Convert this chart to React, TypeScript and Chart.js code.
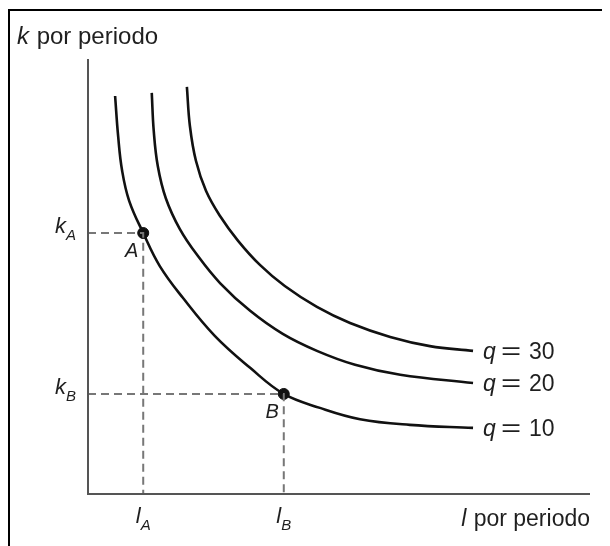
import React, { useEffect, useRef } from "react";
import { Chart, registerables } from "chart.js";

Chart.register(...registerables);

// Isoquant q = 10
const q10L = [0.54, 0.6, 0.68, 0.82, 1.1, 1.43, 1.89, 2.53, 3.23, 3.9, 4.62, 5.42, 6.41, 7.67];
const q10K = [9.15, 8.23, 7.43, 6.74, 6.0, 5.24, 4.51, 3.63, 2.9, 2.3, 1.98, 1.72, 1.59, 1.52];
// Isoquant q = 20
const q20L = [1.27, 1.31, 1.39, 1.55, 1.83, 2.19, 2.63, 3.23, 3.88, 4.56, 5.32, 6.22, 7.67];
const q20K = [9.22, 8.34, 7.54, 6.8, 6.09, 5.47, 4.85, 4.21, 3.68, 3.29, 2.97, 2.74, 2.55];
// Isoquant q = 30
const q30L = [1.97, 2.03, 2.15, 2.35, 2.63, 2.99, 3.43, 3.92, 4.56, 5.22, 6.02, 6.81, 7.67];
const q30K = [9.36, 8.46, 7.66, 6.97, 6.39, 5.82, 5.26, 4.78, 4.3, 3.93, 3.61, 3.4, 3.29];

const qValues = [10, 20, 30];
const pointNames = ["A", "B"];
const pointL = [1.1, 3.9];
const pointK = [6.0, 2.3];

const xTitle = ["l", " por periodo"];
const yTitle = ["k", " por periodo"];

const FONT = "'Liberation Sans', Arial, Helvetica, sans-serif";
const TEXT = "#1f1f1f";

function toPts(xs: number[], ys: number[]) {
  return xs.map((x, i) => ({ x, y: ys[i] }));
}

function drawSub(
  ctx: CanvasRenderingContext2D,
  main: string,
  sub: string,
  x: number,
  y: number,
  align: "right" | "center"
) {
  ctx.font = `italic 22px ${FONT}`;
  const wm = ctx.measureText(main).width;
  ctx.font = `italic 15px ${FONT}`;
  const ws = ctx.measureText(sub).width;
  const total = wm + ws;
  const x0 = align === "right" ? x - total : x - total / 2;
  ctx.textAlign = "left";
  ctx.textBaseline = "alphabetic";
  ctx.font = `italic 22px ${FONT}`;
  ctx.fillText(main, x0, y);
  ctx.font = `italic 15px ${FONT}`;
  ctx.fillText(sub, x0 + wm, y + 7);
}

const annotate = {
  id: "annotate",
  afterDatasetsDraw(chart: any) {
    const { ctx, chartArea, scales } = chart;
    const xs = scales.x;
    const ys = scales.y;
    ctx.save();
    // axes
    ctx.strokeStyle = "#555";
    ctx.lineWidth = 2;
    ctx.beginPath();
    ctx.moveTo(chartArea.left, chartArea.top);
    ctx.lineTo(chartArea.left, chartArea.bottom);
    ctx.lineTo(chartArea.right, chartArea.bottom);
    ctx.stroke();

    ctx.fillStyle = TEXT;
    // axis titles
    ctx.textBaseline = "alphabetic";
    ctx.textAlign = "left";
    ctx.font = `italic 24px ${FONT}`;
    const yx = chartArea.left - 71;
    const yy = chartArea.top - 15;
    ctx.fillText(yTitle[0], yx, yy);
    const wk = ctx.measureText(yTitle[0]).width;
    ctx.font = `24px ${FONT}`;
    ctx.fillText(yTitle[1], yx + wk + 1, yy);

    ctx.font = `23px ${FONT}`;
    const wRest = ctx.measureText(xTitle[1]).width;
    ctx.font = `italic 23px ${FONT}`;
    const wl = ctx.measureText(xTitle[0]).width;
    const xr = chartArea.right;
    const xb = chartArea.bottom + 32;
    ctx.fillText(xTitle[0], xr - wRest - wl - 1, xb);
    ctx.font = `23px ${FONT}`;
    ctx.fillText(xTitle[1], xr - wRest, xb);

    // point labels and axis labels
    pointNames.forEach((name, i) => {
      const px = xs.getPixelForValue(pointL[i]);
      const py = ys.getPixelForValue(pointK[i]);
      drawSub(ctx, "k", name, chartArea.left - 12, py, "right");
      drawSub(ctx, "l", name, px, chartArea.bottom + 29, "center");
      ctx.font = `italic 20px ${FONT}`;
      ctx.textAlign = "right";
      ctx.textBaseline = "top";
      ctx.fillText(name, px - 5, py + 8);
    });

    // curve labels
    const ends = [
      [q10L[q10L.length - 1], q10K[q10K.length - 1]],
      [q20L[q20L.length - 1], q20K[q20K.length - 1]],
      [q30L[q30L.length - 1], q30K[q30K.length - 1]],
    ];
    qValues.forEach((q, i) => {
      const x0 = xs.getPixelForValue(ends[i][0]) + 10;
      const y0 = ys.getPixelForValue(ends[i][1]) + 4;
      ctx.textAlign = "left";
      ctx.textBaseline = "alphabetic";
      ctx.font = `italic 23px ${FONT}`;
      ctx.fillText("q", x0, y0 + 4);
      ctx.font = `23px ${FONT}`;
      ctx.save();
      ctx.translate(x0 + 18, y0 + 4);
      ctx.scale(1.5, 1);
      ctx.fillText("=", 0, 0);
      ctx.restore();
      ctx.fillText(String(q), x0 + 46, y0 + 4);
    });
    ctx.restore();
  },
};

export default function App() {
  const ref = useRef<HTMLCanvasElement | null>(null);
  useEffect(() => {
    if (!ref.current) return;
    const curve = (data: any, label: string) => ({
      type: "line" as const,
      label,
      data,
      borderColor: "#111",
      borderWidth: 2.6,
      pointRadius: 0,
      fill: false,
      tension: 0.4,
    });
    const dash = (i: number) => ({
      type: "line" as const,
      label: "guide" + i,
      data: [
        { x: 0, y: pointK[i] },
        { x: pointL[i], y: pointK[i] },
        { x: pointL[i], y: 0 },
      ],
      borderColor: "#777",
      borderWidth: 2,
      borderDash: [8, 5],
      pointRadius: 0,
      tension: 0,
      fill: false,
    });
    const chart = new Chart(ref.current, {
      type: "line",
      data: {
        datasets: [
          dash(0),
          dash(1),
          curve(toPts(q10L, q10K), "q10"),
          curve(toPts(q20L, q20K), "q20"),
          curve(toPts(q30L, q30K), "q30"),
          {
            type: "scatter" as const,
            label: "points",
            data: toPts(pointL, pointK),
            backgroundColor: "#111",
            borderColor: "#111",
            borderWidth: 1,
            pointRadius: 5.5,
            showLine: false,
          } as any,
        ],
      },
      options: {
        responsive: false,
        animation: false,
        devicePixelRatio: 1,
        layout: { padding: { left: 78, right: 20, top: 48, bottom: 53 } },
        plugins: { legend: { display: false }, tooltip: { enabled: false } },
        scales: {
          x: { type: "linear", min: 0, max: 10, display: false },
          y: { type: "linear", min: 0, max: 10, display: false },
        },
      },
      plugins: [annotate],
    } as any);
    return () => chart.destroy();
  }, []);
  return (
    <div
      style={{
        width: 600,
        height: 536,
        borderTop: "2px solid #000",
        borderLeft: "2px solid #000",
        background: "#fff",
        marginTop: 1,
      }}
    >
      <canvas ref={ref} width={600} height={536} style={{ display: "block" }} />
    </div>
  );
}
